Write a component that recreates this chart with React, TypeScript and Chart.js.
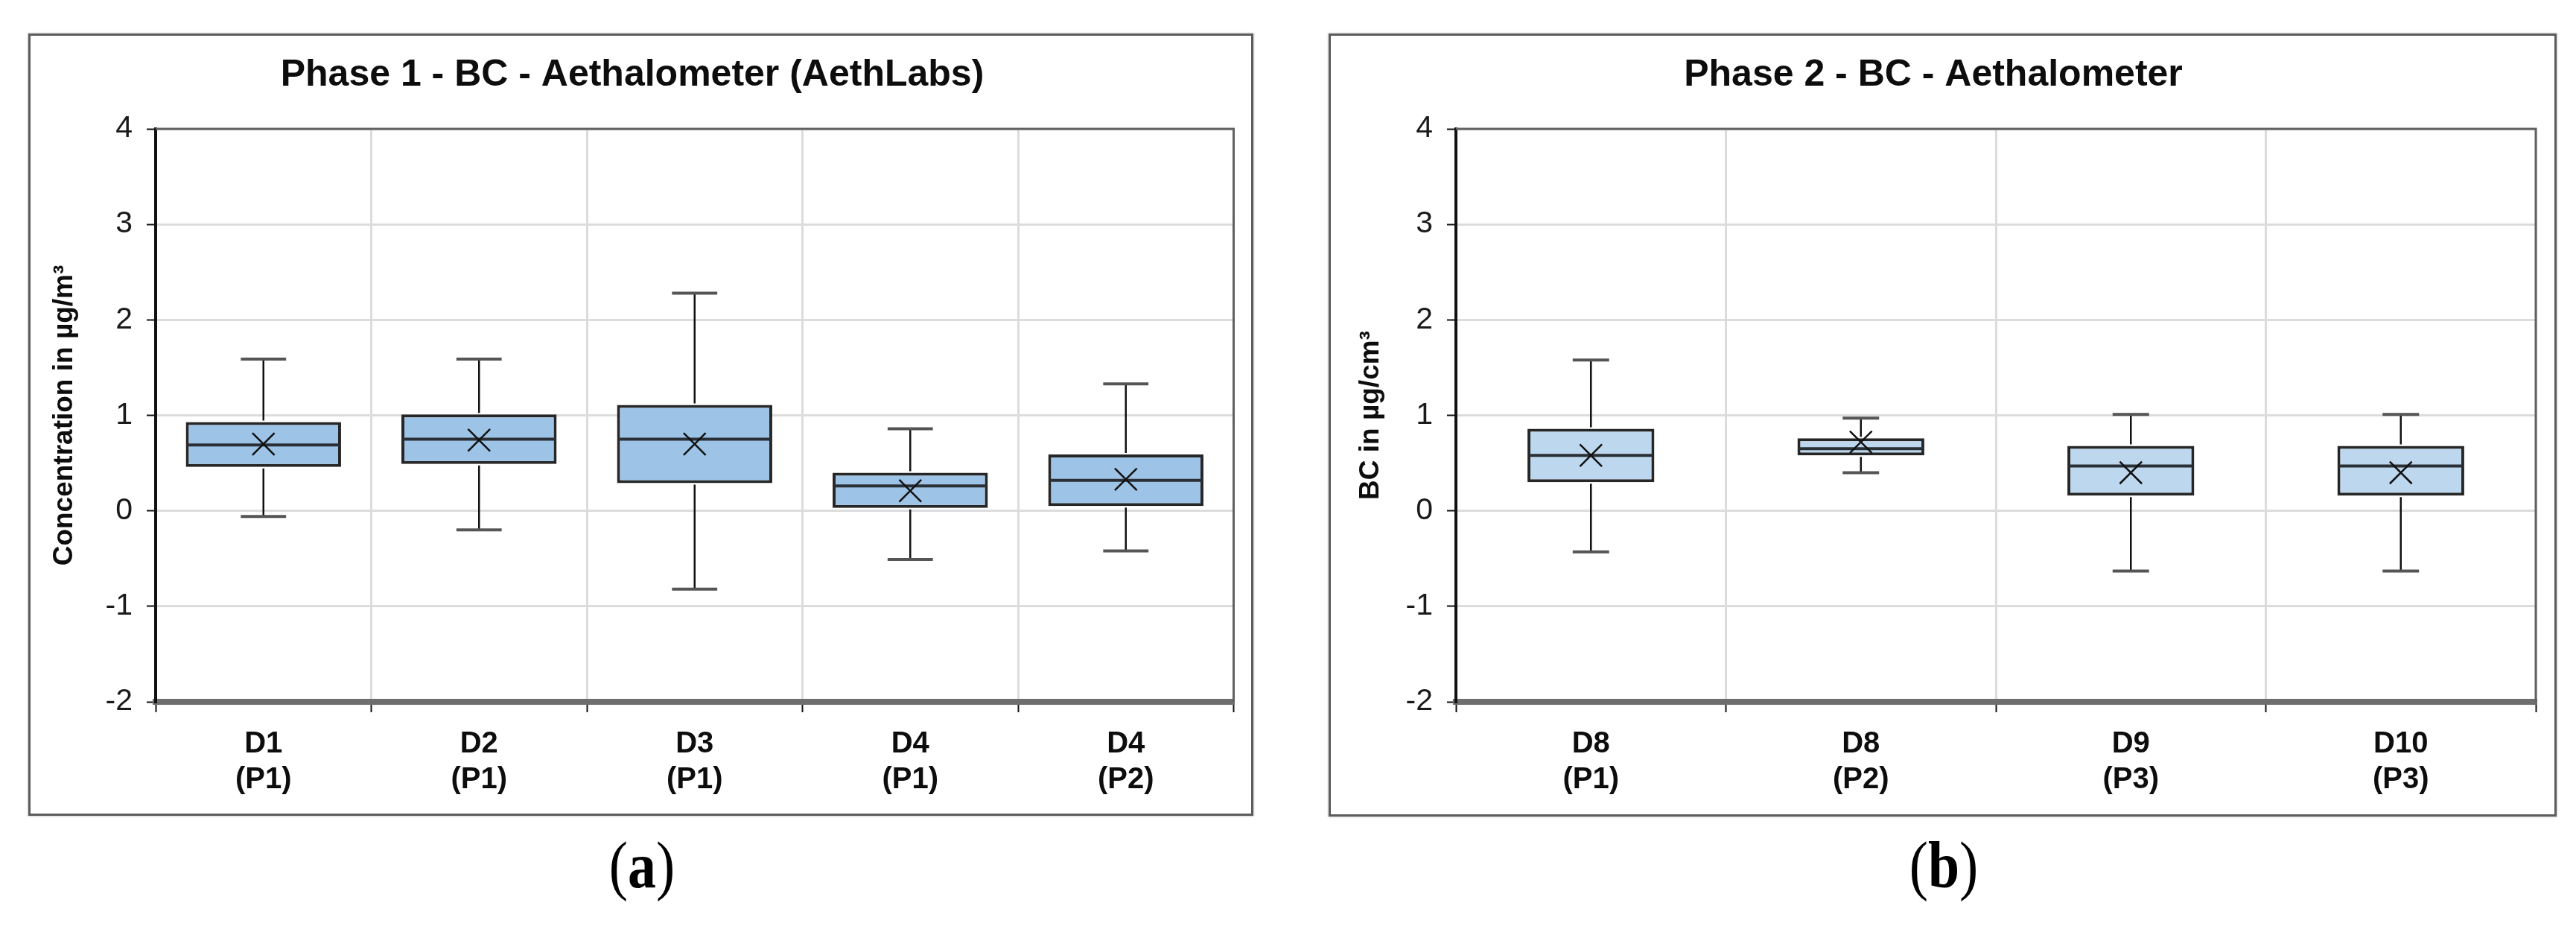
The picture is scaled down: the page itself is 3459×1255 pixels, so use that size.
import React, { useEffect, useRef } from 'react';
import { Chart, registerables } from 'chart.js';

Chart.register(...registerables);

// ---------- data: panel (a) ----------
const categoriesA: string[][] = [
  ['D1', '(P1)'],
  ['D2', '(P1)'],
  ['D3', '(P1)'],
  ['D4', '(P1)'],
  ['D4', '(P2)'],
];
const minA = [-0.06, -0.2, -0.82, -0.51, -0.42];
const q1A = [0.46, 0.49, 0.29, 0.03, 0.05];
const medianA = [0.69, 0.75, 0.75, 0.26, 0.32];
const q3A = [0.93, 1.01, 1.11, 0.4, 0.59];
const maxA = [1.59, 1.59, 2.28, 0.86, 1.33];
const meanA = [0.7, 0.74, 0.7, 0.21, 0.33];

// ---------- data: panel (b) ----------
const categoriesB: string[][] = [
  ['D8', '(P1)'],
  ['D8', '(P2)'],
  ['D9', '(P3)'],
  ['D10', '(P3)'],
];
const minB = [-0.43, 0.4, -0.63, -0.63];
const q1B = [0.3, 0.58, 0.16, 0.16];
const medianB = [0.58, 0.65, 0.47, 0.47];
const q3B = [0.86, 0.76, 0.68, 0.68];
const maxB = [1.58, 0.97, 1.01, 1.01];
const meanB = [0.58, 0.72, 0.4, 0.4];

// ---------- axis ----------
const yTicks = [-2, -1, 0, 1, 2, 3, 4];

const FONT = '"Liberation Sans", Arial, sans-serif';

const boxExtras = {
  id: 'boxExtras',
  afterDatasetDraw(chart: any, args: any, opts: any) {
    if (args.index !== 1) return;
    const { ctx } = chart;
    const x = chart.scales.x;
    const y = chart.scales.y;
    const meta = chart.getDatasetMeta(1);
    const n = opts.medians.length;
    const catW = (chart.chartArea.right - chart.chartArea.left) / n;
    ctx.save();
    for (let i = 0; i < n; i++) {
      const cx = x.getPixelForValue(i);
      const bw = meta.data[i].width;
      const yMin = y.getPixelForValue(opts.mins[i]);
      const yMax = y.getPixelForValue(opts.maxs[i]);
      const yQ1 = y.getPixelForValue(opts.q1[i]);
      const yQ3 = y.getPixelForValue(opts.q3[i]);
      const yMed = y.getPixelForValue(opts.medians[i]);
      // whiskers
      ctx.strokeStyle = '#111';
      ctx.lineWidth = 2.5;
      ctx.beginPath();
      ctx.moveTo(cx, yQ3 - 2);
      ctx.lineTo(cx, yMax);
      ctx.moveTo(cx, yQ1 + 2);
      ctx.lineTo(cx, yMin);
      ctx.stroke();
      // caps
      const cw = catW * opts.capRatio;
      ctx.strokeStyle = '#555';
      ctx.lineWidth = 4;
      ctx.beginPath();
      ctx.moveTo(cx - cw / 2, yMax);
      ctx.lineTo(cx + cw / 2, yMax);
      ctx.moveTo(cx - cw / 2, yMin);
      ctx.lineTo(cx + cw / 2, yMin);
      ctx.stroke();
      // median
      ctx.strokeStyle = '#2a2f35';
      ctx.lineWidth = 4;
      ctx.beginPath();
      ctx.moveTo(cx - bw / 2 + 2, yMed);
      ctx.lineTo(cx + bw / 2 - 2, yMed);
      ctx.stroke();
    }
    ctx.restore();
  },
};

const frame = {
  id: 'frame',
  beforeDatasetsDraw(chart: any) {
    const { ctx, chartArea } = chart;
    ctx.save();
    ctx.strokeStyle = '#606060';
    ctx.lineWidth = 3;
    ctx.beginPath();
    ctx.moveTo(chartArea.left, chartArea.top);
    ctx.lineTo(chartArea.right, chartArea.top);
    ctx.lineTo(chartArea.right, chartArea.bottom);
    ctx.stroke();
    ctx.restore();
  },
};

interface Props {
  width: number;
  height: number;
  title: string;
  yTitle: string;
  yTitlePad: number;
  rightPad: number;
  xHeight: number;
  labels: string[][];
  mins: number[];
  q1: number[];
  medians: number[];
  q3: number[];
  maxs: number[];
  means: number[];
  fill: string;
  barPct: number;
  capRatio: number;
}

function BoxChart(p: Props) {
  const ref = useRef<HTMLCanvasElement>(null);
  useEffect(() => {
    const chart = new Chart(ref.current as HTMLCanvasElement, {
      type: 'bar',
      data: {
        labels: p.labels,
        datasets: [
          {
            type: 'line',
            label: 'mean',
            data: p.means,
            showLine: false,
            pointStyle: 'crossRot',
            pointRadius: 21,
            pointHoverRadius: 21,
            borderColor: '#111',
            backgroundColor: '#111',
            pointBorderWidth: 2.5,
            borderWidth: 2.5,
            order: 1,
          } as any,
          {
            type: 'bar',
            label: 'box',
            data: p.q1.map((v, i) => [v, p.q3[i]]),
            backgroundColor: p.fill,
            borderColor: '#262626',
            borderWidth: 4,
            borderSkipped: false,
            barPercentage: p.barPct,
            categoryPercentage: 1,
            order: 2,
          } as any,
        ],
      },
      options: {
        animation: false,
        responsive: true,
        maintainAspectRatio: false,
        layout: { padding: { left: 0, right: p.rightPad, top: 0, bottom: 0 } },
        plugins: {
          legend: { display: false },
          tooltip: { enabled: false },
          title: {
            display: true,
            text: p.title,
            color: '#0d0d0d',
            font: { family: FONT, size: 50, weight: 'bold', lineHeight: 1.2 },
            padding: { top: 23, bottom: 42 },
          },
          boxExtras: {
            mins: p.mins,
            maxs: p.maxs,
            q1: p.q1,
            q3: p.q3,
            medians: p.medians,
            capRatio: p.capRatio,
          },
        } as any,
        scales: {
          x: {
            offset: true,
            grid: {
              offset: true,
              color: '#dcdcdc',
              lineWidth: 3,
              drawTicks: true,
              tickLength: 14,
              tickColor: '#111',
              tickWidth: 2,
            },
            border: { color: '#6e6e6e', width: 8 },
            ticks: {
              color: '#0d0d0d',
              padding: 19,
              font: { family: FONT, size: 40, weight: 'bold', lineHeight: 1.2 },
              maxRotation: 0,
              autoSkip: false,
            },
            afterFit: (s: any) => {
              s.height = p.xHeight;
            },
          },
          y: {
            min: -2,
            max: 4,
            afterBuildTicks: (s: any) => {
              s.ticks = yTicks.map((v) => ({ value: v }));
            },
            grid: {
              color: '#dcdcdc',
              lineWidth: 3,
              drawTicks: true,
              tickLength: 12,
              tickColor: '#111',
              tickWidth: 2,
            },
            border: { color: '#111', width: 4 },
            ticks: {
              color: '#1a1a1a',
              padding: 19,
              font: { family: FONT, size: 41 },
              callback: (v: any) => String(v),
            },
            title: {
              display: true,
              text: p.yTitle,
              color: '#0d0d0d',
              font: { family: FONT, size: 37, weight: 'bold', lineHeight: 1.2 },
              padding: { top: p.yTitlePad, bottom: 0 },
            },
            afterFit: (s: any) => {
              s.width = 168;
            },
          },
        },
      },
      plugins: [boxExtras, frame],
    });
    return () => chart.destroy();
  }, []);
  return (
    <div style={{ position: 'relative', width: p.width, height: p.height }}>
      <canvas ref={ref} />
    </div>
  );
}

const panelStyle = (left: number, top: number, w: number, h: number): React.CSSProperties => ({
  position: 'absolute',
  left,
  top,
  width: w,
  height: h,
  boxSizing: 'border-box',
  border: '3px solid #5c5c5c',
  boxShadow: '0 0 2px 1px #d4d4d4',
  background: '#fff',
});

const captionStyle = (cx: number): React.CSSProperties => ({
  position: 'absolute',
  left: cx,
  top: 1118,
  fontFamily: '"Liberation Serif", "Times New Roman", serif',
  fontSize: 88,
  lineHeight: '88px',
  color: '#000',
  whiteSpace: 'nowrap',
  transform: 'translateX(-50%) scaleX(0.86)',
});

export default function App() {
  return (
    <div style={{ position: 'absolute', left: 0, top: 0, width: 3459, height: 1255, background: '#fff' }}>
      <div style={panelStyle(38, 45, 1645, 1050)}>
        <BoxChart
          width={1639}
          height={1044}
          title="Phase 1 - BC - Aethalometer (AethLabs)"
          yTitle="Concentration in µg/m³"
          yTitlePad={24}
          rightPad={23}
          xHeight={150}
          labels={categoriesA}
          mins={minA}
          q1={q1A}
          medians={medianA}
          q3={q3A}
          maxs={maxA}
          means={meanA}
          fill="#9dc3e6"
          barPct={0.72}
          capRatio={0.21}
        />
      </div>
      <div style={panelStyle(1784, 45, 1649, 1051)}>
        <BoxChart
          width={1643}
          height={1045}
          title="Phase 2 - BC - Aethalometer"
          yTitle="BC in µg/cm³"
          yTitlePad={32}
          rightPad={25}
          xHeight={151}
          labels={categoriesB}
          mins={minB}
          q1={q1B}
          medians={medianB}
          q3={q3B}
          maxs={maxB}
          means={meanB}
          fill="#bdd7ee"
          barPct={0.47}
          capRatio={0.135}
        />
      </div>
      <div style={{ ...captionStyle(862) }}>
        (<b>a</b>)
      </div>
      <div style={{ ...captionStyle(2610) }}>
        (<b>b</b>)
      </div>
    </div>
  );
}
